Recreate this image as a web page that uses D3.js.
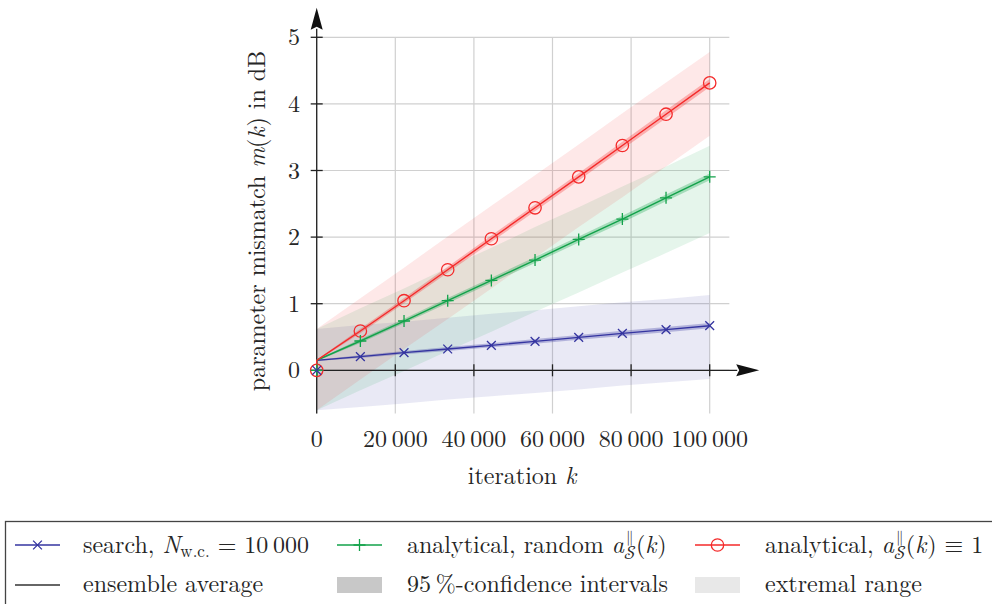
<!DOCTYPE html>
<html>
<head>
<meta charset="utf-8">
<script src="https://cdn.jsdelivr.net/npm/d3@7"></script>
<style>
  html, body { margin: 0; padding: 0; background: #fff; }
  svg { display: block; }
</style>
</head>
<body>
<svg id="chart" width="992" height="604"></svg>
<script>
// ---------------- data ----------------
const iterations = [0, 1, 11111, 22222, 33333, 44444, 55556, 66667, 77778, 88889, 100000];
const hasMarker  = [1, 0, 1, 1, 1, 1, 1, 1, 1, 1, 1];

const searchMean = [0, 0.15, 0.205, 0.265, 0.32, 0.375, 0.435, 0.495, 0.555, 0.61, 0.67];
const randomMean = [0, 0.15, 0.44, 0.74, 1.045, 1.35, 1.655, 1.965, 2.27, 2.59, 2.905];
const unitMean   = [0, 0.15, 0.59, 1.045, 1.51, 1.975, 2.44, 2.905, 3.375, 3.845, 4.315];

const searchCI = [0, 0.01, 0.02, 0.025, 0.03, 0.03, 0.035, 0.035, 0.04, 0.04, 0.04];
const randomCI = [0, 0.01, 0.03, 0.035, 0.04, 0.04, 0.045, 0.045, 0.05, 0.05, 0.05];
const unitCI   = [0, 0.01, 0.035, 0.04, 0.045, 0.05, 0.05, 0.055, 0.055, 0.06, 0.06];

const searchExtLo = [0, -0.60, -0.55, -0.50, -0.44, -0.39, -0.34, -0.29, -0.23, -0.18, -0.13];
const searchExtHi = [0, 0.62, 0.68, 0.73, 0.79, 0.85, 0.90, 0.96, 1.02, 1.07, 1.13];
const randomExtLo = [0, -0.60, -0.30, -0.01, 0.29, 0.58, 0.88, 1.17, 1.47, 1.76, 2.06];
const randomExtHi = [0, 0.62, 0.93, 1.23, 1.54, 1.84, 2.15, 2.45, 2.76, 3.06, 3.37];
const unitExtLo   = [0, -0.60, -0.14, 0.32, 0.77, 1.23, 1.69, 2.15, 2.60, 3.06, 3.52];
const unitExtHi   = [0, 0.62, 1.08, 1.54, 2.01, 2.47, 2.93, 3.39, 3.86, 4.32, 4.78];

const xTickValues = [0, 20000, 40000, 60000, 80000, 100000];
const xTickLabels = ["0", "20\u2009000", "40\u2009000", "60\u2009000", "80\u2009000", "100\u2009000"];
const yTickValues = [0, 1, 2, 3, 4, 5];
const yTickLabels = ["0", "1", "2", "3", "4", "5"];

const colors = { search: "#3434a0", random: "#12a24a", unit: "#f42a2a" };

// ---------------- layout ----------------
const FONT = "'Latin Modern Roman', 'CMU Serif', 'Liberation Serif', serif";
const MATHFONT = "'Latin Modern Math', 'Latin Modern Roman', 'DejaVu Serif', serif";
const TEXTCOL = "#262626";
const svg = d3.select("#chart");
const x = d3.scaleLinear().domain([0, 100000]).range([316.7, 709.7]);
const y = d3.scaleLinear().domain([0, 5]).range([370.3, 37.3]);
const FS = 24;

const yMinAxis = -0.65, yMaxAxis = 5.13, xMaxGrid = 105000, xMaxAxis = 107000;

function txt(g) {
  return g.append("text").attr("font-family", FONT).attr("fill", TEXTCOL).style("white-space", "pre");
}

// grid
const grid = svg.append("g").attr("stroke", "#d0d0d0").attr("stroke-width", 1.2);
xTickValues.forEach(v => grid.append("line")
  .attr("x1", x(v)).attr("x2", x(v)).attr("y1", y(yMinAxis)).attr("y2", y(5)));
yTickValues.forEach(v => grid.append("line")
  .attr("x1", x(0)).attr("x2", x(xMaxGrid)).attr("y1", y(v)).attr("y2", y(v)));

// series
const series = [
  { key: "search", mean: searchMean, ci: searchCI, lo: searchExtLo, hi: searchExtHi, marker: "x" },
  { key: "random", mean: randomMean, ci: randomCI, lo: randomExtLo, hi: randomExtHi, marker: "plus" },
  { key: "unit",   mean: unitMean,   ci: unitCI,   lo: unitExtLo,   hi: unitExtHi,   marker: "circle" }
];

const area = d3.area().x(d => x(d.k)).y0(d => y(d.lo)).y1(d => y(d.hi));
const line = d3.line().x(d => x(d.k)).y(d => y(d.v));

series.forEach(s => {
  const pts = iterations.map((k, i) => ({ k, lo: s.lo[i], hi: s.hi[i] }));
  svg.append("path").attr("d", area(pts)).attr("fill", colors[s.key]).attr("fill-opacity", 0.11);
});
series.forEach(s => {
  const pts = iterations.map((k, i) => ({ k, lo: s.mean[i] - s.ci[i], hi: s.mean[i] + s.ci[i] }));
  svg.append("path").attr("d", area(pts)).attr("fill", colors[s.key]).attr("fill-opacity", 0.3);
});

// axes
const ax = svg.append("g").attr("stroke", "#222").attr("stroke-width", 1.3);
ax.append("line").attr("x1", x(0)).attr("x2", x(0)).attr("y1", y(yMinAxis)).attr("y2", y(yMaxAxis));
ax.append("line").attr("x1", x(0)).attr("x2", x(xMaxAxis)).attr("y1", y(0)).attr("y2", y(0));
yTickValues.forEach(v => ax.append("line").attr("x1", x(0) - 6).attr("x2", x(0) + 6).attr("y1", y(v)).attr("y2", y(v)));
xTickValues.forEach(v => ax.append("line").attr("x1", x(v)).attr("x2", x(v)).attr("y1", y(0) - 6).attr("y2", y(0) + 6));
const ax0 = x(0), ay0 = y(yMaxAxis);
svg.append("path").attr("fill", "#111")
  .attr("d", `M${ax0},${ay0 - 21} L${ax0 + 6},${ay0 + 1} L${ax0},${ay0 - 2} L${ax0 - 6},${ay0 + 1} Z`);
const bx0 = x(xMaxAxis), by0 = y(0);
svg.append("path").attr("fill", "#111")
  .attr("d", `M${bx0 + 22},${by0} L${bx0 - 1},${by0 + 6} L${bx0 + 2},${by0} L${bx0 - 1},${by0 - 6} Z`);

// tick labels
yTickValues.forEach((v, i) => txt(svg).attr("x", 300).attr("y", y(v) + 8)
  .attr("text-anchor", "end").attr("font-size", FS).text(yTickLabels[i]));
xTickValues.forEach((v, i) => txt(svg).attr("x", x(v)).attr("y", 447)
  .attr("text-anchor", "middle").attr("font-size", FS).text(xTickLabels[i]));

// lines
series.forEach(s => {
  const pts = iterations.map((k, i) => ({ k, v: s.mean[i] }));
  svg.append("path").attr("d", line(pts)).attr("fill", "none")
    .attr("stroke", colors[s.key]).attr("stroke-width", 1.4);
});

function drawMarker(g, type, cx, cy, color) {
  if (type === "x") {
    const r = 4.4;
    g.append("path").attr("d", `M${cx - r},${cy - r}L${cx + r},${cy + r}M${cx - r},${cy + r}L${cx + r},${cy - r}`)
      .attr("stroke", color).attr("stroke-width", 1.3).attr("fill", "none");
  } else if (type === "plus") {
    const r = 6;
    g.append("path").attr("d", `M${cx - r},${cy}L${cx + r},${cy}M${cx},${cy - r}L${cx},${cy + r}`)
      .attr("stroke", color).attr("stroke-width", 1.3).attr("fill", "none");
  } else {
    g.append("circle").attr("cx", cx).attr("cy", cy).attr("r", 6.2)
      .attr("stroke", color).attr("stroke-width", 1.3).attr("fill", "none");
  }
}
const mk = svg.append("g");
series.slice().reverse().forEach(s => {
  iterations.forEach((k, i) => { if (hasMarker[i]) drawMarker(mk, s.marker, x(k), y(s.mean[i]), colors[s.key]); });
});

// rich text helper
function rich(g, x0, y0, pieces, anchor) {
  const grp = g.append("g");
  let cx = 0;
  pieces.forEach(p => {
    const stack = p.stack || [p];
    let w = 0;
    stack.forEach(q => {
      const t = txt(grp).attr("x", cx + (q.dx || 0)).attr("y", q.dy || 0)
        .attr("font-size", q.fs || FS).attr("font-style", q.it ? "italic" : null)
        .text(q.t);
      if (q.math) t.attr("font-family", MATHFONT);
      w = Math.max(w, t.node().getComputedTextLength() + (q.dx || 0) + (q.extra || 0));
    });
    cx += w;
  });
  const off = anchor === "middle" ? -cx / 2 : 0;
  grp.attr("transform", `translate(${x0 + off},${y0})`);
  return grp;
}

// axis labels
const yl = svg.append("g").attr("transform", `translate(265,221) rotate(-90)`);
rich(yl, 0, 0, [{ t: "parameter mismatch " }, { t: "m", it: true }, { t: "(" }, { t: "k", it: true, extra: 1 }, { t: ")" }, { t: " in dB" }], "middle");
rich(svg, 522, 484, [{ t: "iteration " }, { t: "k", it: true }], "middle");

// legend
svg.append("rect").attr("x", 5.5).attr("y", 521.5).attr("width", 1000).attr("height", 100)
  .attr("fill", "none").attr("stroke", "#444").attr("stroke-width", 1.3);

const legendCols = [15, 337, 695];
const textCols = [83, 407, 765];
const row1 = 545, row2 = 585;
const leg = svg.append("g");
series.forEach((s, i) => {
  leg.append("line").attr("x1", legendCols[i]).attr("x2", legendCols[i] + 45).attr("y1", row1).attr("y2", row1)
    .attr("stroke", colors[s.key]).attr("stroke-width", 1.3);
  drawMarker(leg, s.marker, legendCols[i] + 22.5, row1, colors[s.key]);
});
const aS = [{ t: "a", it: true }, { stack: [{ t: "\u2225", fs: 15, dy: -11, dx: 2, math: true }, { t: "\uD835\uDCAE", fs: 19, dy: 6, dx: 0, math: true }] }, { t: "(" }, { t: "k", it: true, extra: 1 }, { t: ")" }];
rich(leg, textCols[0], row1 + 8, [{ t: "search, " }, { t: "N", it: true }, { t: "w.c.", fs: 17, dy: 4 }, { t: " = 10\u2009000" }]);
rich(leg, textCols[1], row1 + 8, [{ t: "analytical, random " }].concat(aS));
rich(leg, textCols[2], row1 + 8, [{ t: "analytical, " }].concat(aS).concat([{ t: " \u2261 1", math: true }]));

leg.append("line").attr("x1", legendCols[0]).attr("x2", legendCols[0] + 45).attr("y1", row2).attr("y2", row2)
  .attr("stroke", "#333").attr("stroke-width", 1.3);
leg.append("rect").attr("x", legendCols[1]).attr("y", row2 - 8).attr("width", 45).attr("height", 16).attr("fill", "#c8c8c8");
leg.append("rect").attr("x", legendCols[2]).attr("y", row2 - 8).attr("width", 45).attr("height", 16).attr("fill", "#e8e8e8");
rich(leg, textCols[0], row2 + 7, [{ t: "ensemble average" }]);
rich(leg, textCols[1], row2 + 7, [{ t: "95\u2009%-confidence intervals" }]);
rich(leg, textCols[2], row2 + 7, [{ t: "extremal range" }]);
</script>
</body>
</html>
